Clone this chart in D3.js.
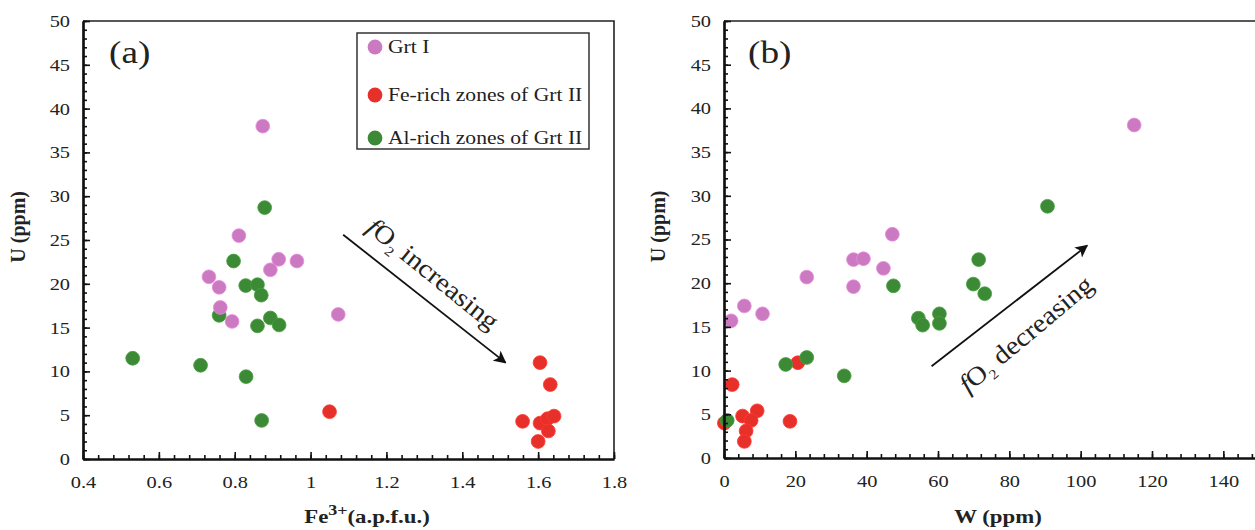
<!DOCTYPE html>
<html>
<head>
<meta charset="utf-8">
<script src="https://cdn.jsdelivr.net/npm/d3@7"></script>
<style>
  body { margin: 0; background: #fff; }
  text { font-family: "Liberation Serif", "Times New Roman", serif; fill: #222; }
</style>
</head>
<body>
<script>
var width = 1255,
    height = 530;

// panel (a): Fe3+ vs U
var grt1Fe = [0.874, 0.811, 0.916, 0.964, 0.894, 0.732, 0.759, 0.762, 0.793, 1.073];
var grt1Ua = [38.0, 25.5, 22.8, 22.6, 21.6, 20.8, 19.6, 17.3, 15.7, 16.5];
var feRichFe = [1.05, 1.605, 1.632, 1.559, 1.605, 1.625, 1.642, 1.627, 1.600];
var feRichUa = [5.4, 11.0, 8.5, 4.3, 4.1, 4.6, 4.9, 3.2, 2.0];
var alRichFe = [0.879, 0.797, 0.829, 0.86, 0.87, 0.759, 0.86, 0.894, 0.917, 0.71, 0.83, 0.871, 0.531];
var alRichUa = [28.7, 22.6, 19.8, 19.9, 18.7, 16.4, 15.2, 16.1, 15.3, 10.7, 9.4, 4.4, 11.5];

// panel (b): W vs U
var grt1W = [115, 2.0, 5.7, 10.8, 23.2, 36.3, 39.1, 44.7, 36.3, 47.2];
var grt1Ub = [38.1, 15.7, 17.4, 16.5, 20.7, 22.7, 22.8, 21.7, 19.6, 25.6];
var feRichW = [0.1, 2.3, 5.2, 9.3, 7.6, 6.2, 5.7, 18.5, 20.7];
var feRichUb = [4.0, 8.4, 4.8, 5.4, 4.3, 3.1, 1.9, 4.2, 10.9];
var alRichW = [0.9, 17.3, 23.2, 33.7, 47.5, 90.7, 71.4, 69.9, 73.1, 54.5, 55.7, 60.4, 60.4];
var alRichUb = [4.3, 10.7, 11.5, 9.4, 19.7, 28.8, 22.7, 19.9, 18.8, 16.0, 15.2, 16.5, 15.4];

var seriesNames = ['Grt I', 'Fe-rich zones of Grt II', 'Al-rich zones of Grt II'];
var seriesColors = ['#cb79c1', '#e8302a', '#3c8a36'];

var yTicks = [0, 5, 10, 15, 20, 25, 30, 35, 40, 45, 50];
var xTicksA = [0.4, 0.6, 0.8, 1.0, 1.2, 1.4, 1.6, 1.8];
var xTicksB = [0, 20, 40, 60, 80, 100, 120, 140];

// the source figure is a bit wider than tall, text looks stretched
var stretch = 1.2;

var svg = d3.select('body')
  .append('svg')
  .attr('width', width)
  .attr('height', height);

function zip(xs, ys) {
  return xs.map(function(x, i) { return [x, ys[i]]; });
}

// put a text at (x, y), widened horizontally
function wideText(parent, x, y, size) {
  return parent.append('text')
    .attr('transform', 'translate(' + x + ',' + y + ') scale(' + stretch + ',1)')
    .style('font-size', size + 'px');
}

function panel(opts) {
  var x = d3.scaleLinear().domain(opts.xDomain).range(opts.xRange);
  var y = d3.scaleLinear().domain([0, 50]).range([opts.bottom, 21]);
  var g = svg.append('g');

  // points: red, then green, then pink on top
  var order = [1, 2, 0];
  order.forEach(function(k) {
    g.append('g').selectAll('circle')
      .data(opts.series[k])
      .enter().append('circle')
      .attr('cx', function(d) { return x(d[0]); })
      .attr('cy', function(d) { return y(d[1]); })
      .attr('r', 6.9)
      .attr('fill', seriesColors[k])
      .attr('stroke', d3.color(seriesColors[k]).brighter(0.4))
      .attr('stroke-width', 0.8);
  });

  // frame
  g.append('path')
    .attr('d', 'M' + x.range()[0] + ',' + y(50) + 'H' + x.range()[1] + 'V' + y(0))
    .attr('fill', 'none')
    .attr('stroke', '#222')
    .attr('stroke-width', 1.6);

  // x axis
  var xMinor = g.append('g').attr('transform', 'translate(0,' + y(0) + ')')
    .call(d3.axisBottom(x).tickValues(d3.range(opts.xDomain[0], opts.xDomain[1] + 1e-9, opts.xMinor)).tickSize(-4).tickSizeOuter(0).tickFormat(''));
  var xMajor = g.append('g').attr('transform', 'translate(0,' + y(0) + ')')
    .call(d3.axisBottom(x).tickValues(opts.xTicks).tickSize(-7).tickSizeOuter(0).tickPadding(17).tickFormat(opts.xFormat));

  // y axis
  var yMinor = g.append('g').attr('transform', 'translate(' + x.range()[0] + ',0)')
    .call(d3.axisLeft(y).tickValues(d3.range(0, 51, 1)).tickSize(-4).tickSizeOuter(0).tickFormat(''));
  var yMajor = g.append('g').attr('transform', 'translate(' + x.range()[0] + ',0)')
    .call(d3.axisLeft(y).tickValues(yTicks).tickSize(-7).tickSizeOuter(0).tickPadding(13));

  [xMinor, xMajor, yMinor, yMajor].forEach(function(a) {
    a.attr('font-family', '"Liberation Serif", serif');
    a.select('.domain').attr('stroke', '#111').attr('stroke-width', 2.2);
    a.selectAll('.tick line').attr('stroke', '#111').attr('stroke-width', 1.6);
    a.selectAll('.tick text')
      .style('font-family', '"Liberation Serif", serif')
      .style('font-size', '17px')
      .attr('fill', '#222');
  });
  xMajor.selectAll('.tick text')
    .attr('transform', 'scale(' + stretch + ',1)');
  yMajor.selectAll('.tick text')
    .attr('x', -13 / stretch)
    .attr('transform', 'scale(' + stretch + ',1)');

  // panel letter
  wideText(g, opts.letterX, 63, 31).text(opts.letter);

  // y title
  g.append('text')
    .attr('transform', 'translate(' + opts.yTitleX + ',' + y(26.5) + ') rotate(-90)')
    .attr('text-anchor', 'middle')
    .style('font-size', '20px')
    .style('font-weight', 'bold')
    .text('U (ppm)');

  return { g: g, x: x, y: y };
}

var a = panel({
  xDomain: [0.4, 1.8], xRange: [83, 614], bottom: 459,
  xMinor: 0.04, xTicks: xTicksA,
  xFormat: function(d) { return d === 1 ? '1' : d3.format('.1f')(d); },
  series: [zip(grt1Fe, grt1Ua), zip(feRichFe, feRichUa), zip(alRichFe, alRichUa)],
  letter: '(a)', letterX: 109, yTitleX: 25
});

var b = panel({
  xDomain: [0, 150], xRange: [724, 1259], bottom: 458,
  xMinor: 4, xTicks: xTicksB,
  xFormat: d3.format('d'),
  series: [zip(grt1W, grt1Ub), zip(feRichW, feRichUb), zip(alRichW, alRichUb)],
  letter: '(b)', letterX: 748, yTitleX: 665
});

// x titles
var ta = wideText(svg, 367, 523, 19)
  .attr('text-anchor', 'middle')
  .style('font-weight', 'bold');
ta.append('tspan').text('Fe');
ta.append('tspan').attr('dy', -8).style('font-size', '15px').text('3+');
ta.append('tspan').attr('dy', 8).text('(a.p.f.u.)');

wideText(svg, 998, 523, 19)
  .attr('text-anchor', 'middle')
  .style('font-weight', 'bold')
  .text('W (ppm)');

// legend
var legend = svg.append('g');
legend.append('rect')
  .attr('x', 357).attr('y', 33)
  .attr('width', 232).attr('height', 116)
  .attr('fill', '#fff')
  .attr('stroke', '#333')
  .attr('stroke-width', 1.5);
var legendY = [47, 95, 138];
seriesNames.forEach(function(name, i) {
  legend.append('circle')
    .attr('cx', 375).attr('cy', legendY[i]).attr('r', 7.4)
    .attr('fill', seriesColors[i]);
  wideText(legend, 388, legendY[i] + 6, 18).text(name);
});

// arrows
svg.append('defs').append('marker')
  .attr('id', 'head')
  .attr('viewBox', '0 0 10 10')
  .attr('refX', 9).attr('refY', 5)
  .attr('markerWidth', 7).attr('markerHeight', 7)
  .attr('orient', 'auto')
  .append('path')
  .attr('d', 'M0,0L10,5L0,10L2.5,5Z')
  .attr('fill', '#111');

function arrow(p, x0, y0, x1, y1) {
  svg.append('line')
    .attr('x1', p.x(x0)).attr('y1', p.y(y0))
    .attr('x2', p.x(x1)).attr('y2', p.y(y1))
    .attr('stroke', '#111')
    .attr('stroke-width', 1.8)
    .attr('marker-end', 'url(#head)');
}

function fo2Label(px, py, angle, word) {
  var t = svg.append('text')
    .attr('transform', 'translate(' + px + ',' + py + ') rotate(' + angle + ') scale(1.1,1)')
    .style('font-size', '26px');
  t.append('tspan').style('font-style', 'italic').text('f');
  t.append('tspan').text('O');
  t.append('tspan').attr('dy', 6).style('font-size', '14px').text('2');
  t.append('tspan').attr('dy', -6).text(' ' + word);
}

// (a) arrow in data units
arrow(a, 1.086, 25.6, 1.514, 11.0);
fo2Label(365, 230, 39, 'increasing');

// (b) arrow in data units
arrow(b, 58.2, 10.5, 101.8, 24.3);
fo2Label(968, 394, -40, 'decreasing');
</script>
</body>
</html>
